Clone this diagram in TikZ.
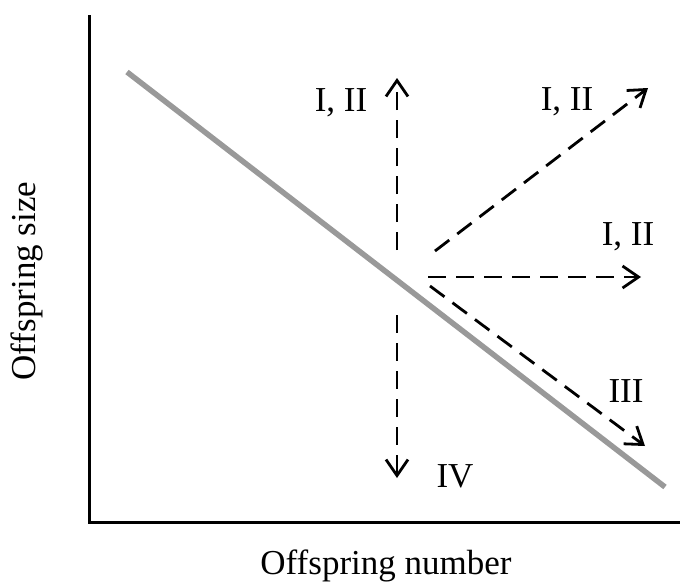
\documentclass[tikz,border=0pt]{standalone}
\usepackage{fontspec}
\setmainfont{Liberation Serif}
\usetikzlibrary{arrows.meta}
\definecolor{tradegray}{RGB}{153,153,153}

\begin{document}
\begin{tikzpicture}[
        x=1pt, y=-1pt,
        every node/.style={font=\fontsize{35}{41}\selectfont, inner sep=0pt},
        lbl/.style={anchor=base},
        axis/.style={line width=3pt, line join=miter},
        trade/.style={line width=5.5pt, draw=tradegray},
        shiftarrow/.style={dash pattern=on 18pt off 10pt, line width=2.8pt, -{Straight Barb[length=16pt,width=22pt]}}
    ]
    \useasboundingbox (0,0) rectangle (680,584);

    % axes
    \coordinate (ytop) at (89,15);
    \coordinate (origin) at (89,522);
    \coordinate (xend) at (680,522);
    \draw[axis] (ytop) -- (origin) -- (xend);
    \node[lbl] (xlabel) at (386,574) {Offspring number};
    \node[lbl, rotate=90] (ylabel) at (35,281) {Offspring size};

    % trade-off line
    \coordinate (tstart) at (127,72);
    \coordinate (tend) at (665,487);
    \draw[trade] (tstart) -- (tend);

    % shifts
    \coordinate (upstart) at (397,250);
    \coordinate (uptip) at (397,78);
    \coordinate (downstart) at (397,315);
    \coordinate (downtip) at (397,478);
    \coordinate (diagstart) at (435,251);
    \coordinate (diagtip) at (648,88);
    \coordinate (flatstart) at (428,277);
    \coordinate (flattip) at (641,277);
    \coordinate (slopestart) at (430,286);
    \coordinate (slopetip) at (645,446);
    \draw[shiftarrow] (upstart) -- (uptip);
    \draw[shiftarrow] (downstart) -- (downtip);
    \draw[shiftarrow] (diagstart) -- (diagtip);
    \draw[shiftarrow] (flatstart) -- (flattip);
    \draw[shiftarrow] (slopestart) -- (slopetip);

    \node[lbl] (uplabel) at (341,111) {I, II};
    \node[lbl] (diaglabel) at (567,110) {I, II};
    \node[lbl] (flatlabel) at (628,245) {I, II};
    \node[lbl] (slopelabel) at (626,402) {III};
    \node[lbl] (downlabel) at (455,487) {IV};
\end{tikzpicture}
\end{document}
